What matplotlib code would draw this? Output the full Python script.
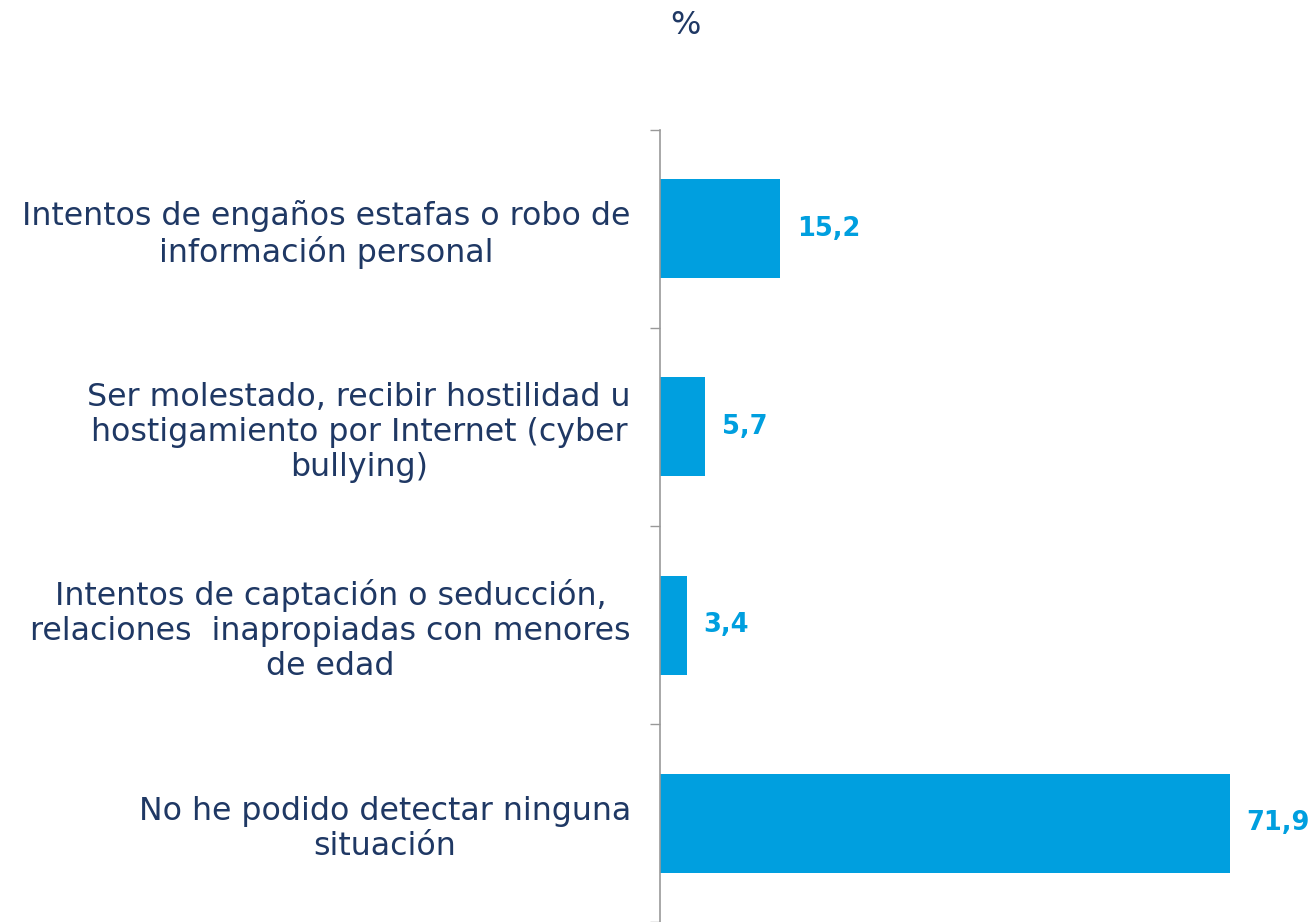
import matplotlib
matplotlib.use("Agg")
import matplotlib.pyplot as plt

# Datos del gráfico
categorias = [
    "Intentos de engaños estafas o robo de\ninformación personal",
    "Ser molestado, recibir hostilidad u\nhostigamiento por Internet (cyber\nbullying)",
    "Intentos de captación o seducción,\nrelaciones  inapropiadas con menores\nde edad",
    "No he podido detectar ninguna\nsituación",
]
valores = [15.2, 5.7, 3.4, 71.9]
etiquetas = ["15,2", "5,7", "3,4", "71,9"]

azul = "#009FDF"
navy = "#1F3864"

plt.rcParams['font.family'] = ['DejaVu Sans']

fig = plt.figure(figsize=(13.14, 9.22), dpi=100)
ax = fig.add_axes([660 / 1314, 0.0, 1 - 660 / 1314, 1 - 130 / 922])

pos = list(range(len(categorias)))
ax.barh(pos, valores, height=0.5, color=azul)

ax.set_xlim(0, 82.5)
ax.set_ylim(3.5, -0.5)

# Etiquetas de valores
for p, v, t in zip(pos, valores, etiquetas):
    ax.annotate(t, (v, p), xytext=(12, 0), textcoords="offset points",
                ha="left", va="center", fontsize=18.5, fontweight="bold", color=azul)

# Ejes
ax.set_yticks(pos)
ax.set_yticklabels(categorias, fontsize=22.8, color=navy, ha="right",
                   multialignment="center", linespacing=1.17)
ax.tick_params(axis="y", which="major", length=0, pad=21)
ax.set_yticks([-0.5, 0.5, 1.5, 2.5, 3.5], minor=True)
ax.tick_params(axis="y", which="minor", length=7, color="#999999", width=1)
ax.set_xticks([])

for s in ["top", "right", "bottom"]:
    ax.spines[s].set_visible(False)
ax.spines["left"].set_color("#999999")
ax.spines["left"].set_linewidth(1.2)

fig.text(685 / 1314, 1 - 25 / 922, "%", ha="center", va="center", fontsize=23, color=navy)

fig.savefig("out.png", dpi=100)
